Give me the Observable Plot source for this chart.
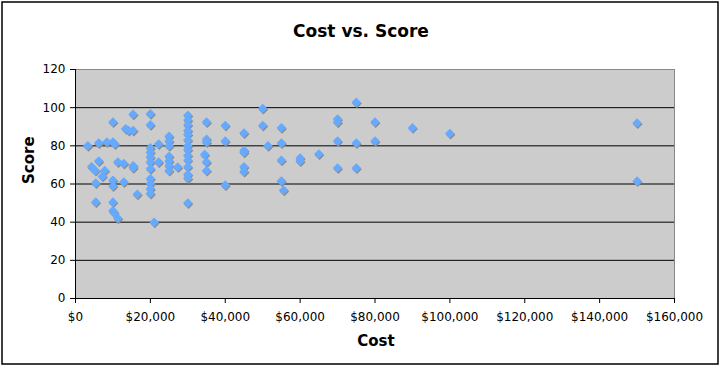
<!DOCTYPE html>
<html><head><meta charset="utf-8">
<script src="https://cdn.jsdelivr.net/npm/d3@7"></script>
<script src="https://cdn.jsdelivr.net/npm/@observablehq/plot@0.6"></script>
<style>body{margin:0;background:#fff} svg{display:block}</style>
</head><body><div id="chart"></div>
<script>
const title = "Cost vs. Score";
const xTitle = "Cost";
const yTitle = "Score";
const xTicks = [0, 20000, 40000, 60000, 80000, 100000, 120000, 140000, 160000];
const yTicks = [0, 20, 40, 60, 80, 100, 120];

const cost = [
  3300, 4300, 5300, 5400, 5400, 6200, 6200, 7200, 7800, 8400,
  10000, 10000, 10500, 10000, 10000, 10000, 10000, 10300, 11300, 11300,
  12900, 12900, 13400, 14200, 15400, 15400, 15400, 15400, 16500,
  20000, 20000, 20000, 20000, 20000, 20000, 20000, 20000, 20000, 20000, 20000,
  21000, 22200, 22200,
  25000, 25000, 25000, 25000, 25000, 25000, 25000,
  27300,
  30000, 30000, 30000, 30000, 30000, 30000, 30000, 30000, 30000, 30000, 30000, 30000, 30000, 30000,
  34500,
  35000, 35000, 35000, 35000, 35000,
  40000, 40000, 40000,
  45000, 45000, 45000, 45000, 45000,
  50000, 50000, 51400,
  55000, 55000, 55000, 55000, 55600,
  60000, 60000,
  65000,
  70000, 70000, 70000, 70000,
  75000, 75000, 75000,
  80000, 80000,
  90000, 100000,
  150000, 150000
];
const score = [
  80, 69, 67, 60.5, 50.5, 81.5, 72, 64, 67, 82,
  92.5, 82, 81, 62, 59, 50.5, 46, 45, 42, 71.5,
  70.7, 61, 89, 88, 88, 96.5, 69.5, 68.5, 54.6,
  96.8, 91, 79, 76.7, 74.1, 71.5, 68, 62.8, 60.2, 57.5, 55,
  40, 81, 71.5,
  85, 82.5, 80, 74.5, 72, 69.5, 67,
  68.9,
  96, 93.5, 91, 88, 86, 83, 80, 78, 75, 72.5, 69, 65, 63, 50,
  75.4,
  92.5, 83.5, 82, 71.5, 67,
  90.7, 82.5, 59.5,
  86.7, 77.6, 76.6, 69, 66.5,
  99.6, 90.7, 80,
  89.5, 81.5, 72.4, 61.6, 56.7,
  73.6, 72,
  75.7,
  94, 92.4, 82.5, 68.4,
  102.8, 81.5, 68.4,
  92.5, 82.5,
  89.4, 86.4,
  92, 61.5
];

const data = cost.map((c, i) => ({cost: c, score: score[i]}));
const fmt = d => "$" + d3.format(",")(d);

const chart = Plot.plot({
  width: 721,
  height: 368,
  marginLeft: 75,
  marginRight: 47,
  marginTop: 69,
  marginBottom: 70,
  style: {fontFamily: "DejaVu Sans, Verdana, sans-serif", fontSize: "12px", color: "#000", background: "#fff"},
  x: {domain: [0, 160000]},
  y: {domain: [0, 120]},
  marks: [
    Plot.frame({fill: "#CCCCCC", stroke: null}),
    Plot.ruleY(yTicks.filter(d => d > 0 && d < 120), {stroke: "#000", strokeWidth: 1}),
    Plot.frame({stroke: "#888", fill: null}),
    Plot.ruleX([0], {stroke: "#000"}),
    Plot.ruleY([0], {stroke: "#000"}),
    Plot.axisY({ticks: yTicks, tickSize: 5, tickPadding: 5, label: null, fontSize: 12}),
    Plot.axisX({ticks: xTicks, tickSize: 5, tickPadding: 9, tickFormat: fmt, label: null, fontSize: 12}),
    Plot.dot(data, {x: "cost", y: "score", symbol: "diamond2", r: 4.3, fill: "#8a8a8a", stroke: null, dx: 0.7, dy: 1.2}),
    Plot.dot(data, {x: "cost", y: "score", symbol: "diamond2", r: 4.3, fill: "#66AAFF", stroke: null}),
    Plot.text([title], {frameAnchor: "top", dx: -14, dy: -45, fontSize: 17, fontWeight: "bold", fill: "#000"}),
    Plot.text([xTitle], {frameAnchor: "bottom", dx: 1, dy: 47, fontSize: 15, fontWeight: "bold", fill: "#000"}),
    Plot.text([yTitle], {frameAnchor: "left", dx: -46, dy: 0, rotate: -90, fontSize: 15, fontWeight: "bold", fill: "#000"})
  ]
});

d3.select(chart).append("rect")
  .attr("x", 2).attr("y", 2).attr("width", 716).attr("height", 362)
  .attr("fill", "none").attr("stroke", "#000").attr("stroke-width", 1.5);

document.getElementById("chart").appendChild(chart);
</script>
</body></html>
